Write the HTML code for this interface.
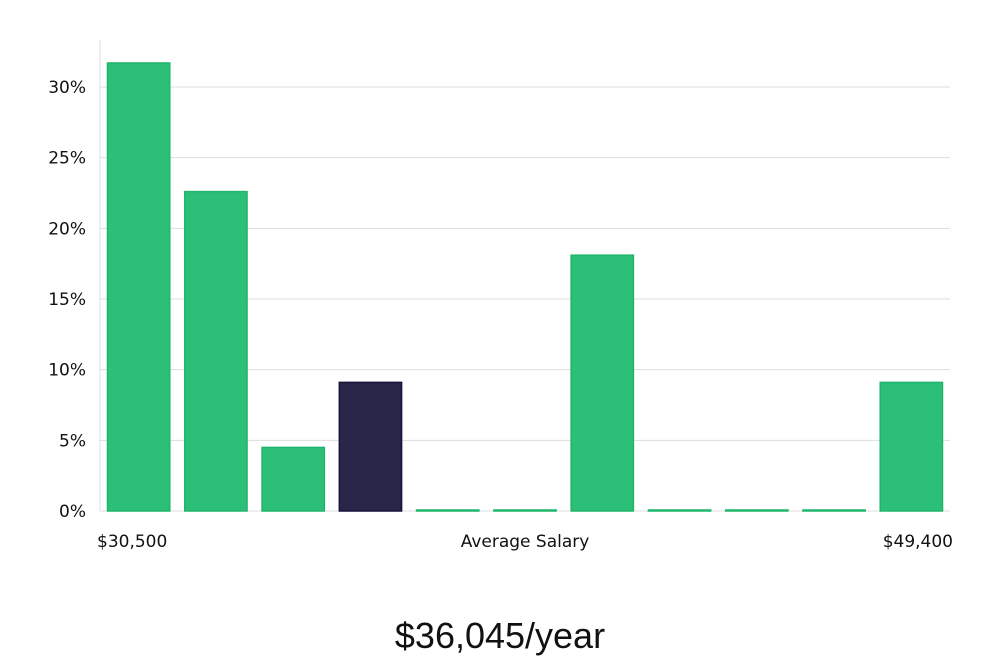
<!DOCTYPE html>
<html><head><meta charset="utf-8"><style>
body{margin:0;background:#fff;width:1000px;height:660px;overflow:hidden;font-family:"Liberation Sans","DejaVu Sans",sans-serif}
svg text{font-family:"DejaVu Sans","Liberation Sans",sans-serif}
</style></head><body>
<svg id="chart" width="1000" height="660" xmlns="http://www.w3.org/2000/svg">
<g id="grid"></g><g id="bars"></g><g id="labels"></g>
<text x="500" y="648" text-anchor="middle" font-size="36" fill="#111" style="font-family:'Liberation Sans',sans-serif;font-weight:300">$36,045/year</text>
</svg>
<script>
const categories=["b1","b2","b3","b4","b5","b6","b7","b8","b9","b10","b11"];
const values=[31.7,22.6,4.5,9.1,0,0,18.1,0,0,0,9.1];
const highlight=[false,false,false,true,false,false,false,false,false,false,false];
const yTicks=[0,5,10,15,20,25,30];
const yTickLabels=["0%","5%","10%","15%","20%","25%","30%"];
const xLabels=["$30,500","Average Salary","$49,400"];
const NS="http://www.w3.org/2000/svg";
const x0=100,x1=950,yBase=511,pxPer=(511-87)/30;
const y=v=>yBase-v*pxPer;
const band=(x1-x0)/categories.length;
const xb=i=>x0+i*band;
function mk(tag,attrs,parent,txt){const e=document.createElementNS(NS,tag);for(const k in attrs)e.setAttribute(k,attrs[k]);if(txt!==undefined)e.textContent=txt;document.getElementById(parent).appendChild(e);return e;}
const ax=mk('line',{x1:x0,x2:x0,y1:40,y2:yBase,stroke:'#ddd'},'grid');


yTicks.forEach((t,i)=>{
 const l=mk('line',{x1:x0,x2:x1,y1:y(t),y2:y(t),stroke:'#ddd'},'grid');
 
 
 const tx=mk('text',{x:86,y:y(t)+6,'text-anchor':'end','font-size':17,fill:'#111'},'labels',yTickLabels[i]);
 
 
});
values.forEach((v,i)=>{
 const h=Math.max(y(0)-y(v),1);
 const r=mk('rect',{x:xb(i)+7.5,y:yBase-h,width:band-15,height:h,fill:highlight[i]?'#29264a':'#2bbf78',stroke:highlight[i]?'#16143a':'#20b56d','stroke-width':1.5},'bars');
 
 
});
const pos=[[97,'start'],[525,'middle'],[953,'end']];
xLabels.forEach((s,i)=>{
 const t=mk('text',{x:pos[i][0],y:547,'text-anchor':pos[i][1],'font-size':17,fill:'#111'},'labels',s);
 
 
});
</script>
</body></html>
